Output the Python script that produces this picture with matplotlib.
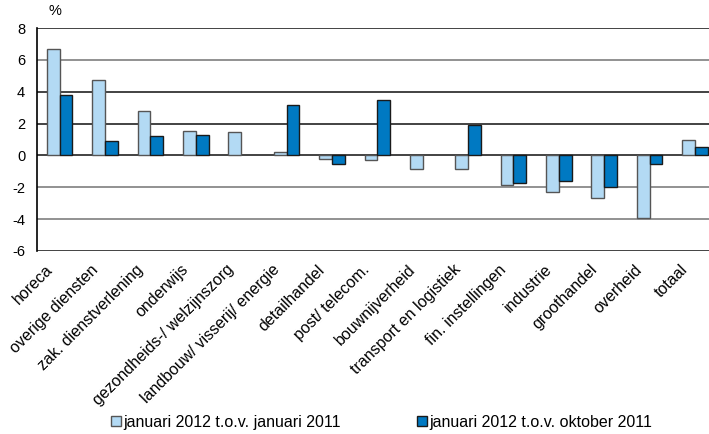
import numpy as np
from matplotlib import pyplot as plt
from matplotlib import transforms

# Sectors and growth figures (%)
sectors = ["horeca", "overige diensten", "zak. dienstverlening", "onderwijs",
           "gezondheids-/ welzijnszorg", "landbouw/ visserij/ energie",
           "detailhandel", "post/ telecom.", "bouwnijverheid",
           "transport en logistiek", "fin. instellingen", "industrie",
           "groothandel", "overheid", "totaal"]
jan_vs_jan = [6.68, 4.72, 2.76, 1.54, 1.50, 0.21, -0.21, -0.29, -0.84,
              -0.86, -1.84, -2.28, -2.65, -3.95, 0.96]
jan_vs_okt = [3.80, 0.90, 1.21, 1.29, 0.0, 3.17, -0.52, 3.47, 0.0,
              1.88, -1.73, -1.63, -1.98, -0.54, 0.56]
yticks = [-6, -4, -2, 0, 2, 4, 6, 8]
legend_labels = ["januari 2012 t.o.v. januari 2011",
                 "januari 2012 t.o.v. oktober 2011"]

plt.rcParams['font.family'] = ['Liberation Sans', 'DejaVu Sans']

fig = plt.figure(figsize=(7.09, 4.34), dpi=100)
ax = fig.add_axes([37 / 709, (434 - 251) / 434, (709 - 37) / 709, 223 / 434])

x = np.arange(len(sectors))
w = 0.28
# no outline for empty bars
lw1 = [0 if v == 0 else 1.0 for v in jan_vs_jan]
lw2 = [0 if v == 0 else 1.0 for v in jan_vs_okt]
b1 = ax.bar(x - w / 2, jan_vs_jan, w, color="#b3daf4", edgecolor="#555555",
            linewidth=lw1, zorder=3)
b2 = ax.bar(x + w / 2, jan_vs_okt, w, color="#0079c2", edgecolor="#1a1a1a",
            linewidth=lw2, zorder=3)

ax.set_ylim(-6, 8)
ax.set_xlim(-0.5, 14.31)
ax.set_yticks(yticks)
ax.set_yticklabels([str(v) for v in yticks], fontsize=10.5)
for v in yticks:
    col = "#222222" if v in (8, 4, 2, 0, -6) else "#7f7f7f"
    ax.axhline(v, color=col, linewidth=1.2, zorder=1)

# category labels, rotated, ending a bit left of each group centre
ax.set_xticks(x)
ax.set_xticklabels([])
lab_tr = transforms.blended_transform_factory(ax.transData, ax.transAxes) + \
    transforms.ScaledTranslation(-15 / 100, -11 / 100, fig.dpi_scale_trans)
for xi, name in zip(x, sectors):
    ax.text(xi, 0, name, transform=lab_tr, rotation=45, ha="right", va="top",
            rotation_mode="anchor", fontsize=11.5, clip_on=False)

ax.tick_params(axis="both", length=0)
ax.tick_params(axis="y", pad=8.5)
for s in ["top", "right", "bottom"]:
    ax.spines[s].set_visible(False)
ax.spines["left"].set_linewidth(1.2)

fig.text(55 / 709, 1 - 11 / 434, "%", fontsize=10.5, ha="center", va="center")

ly = 1 - 422 / 434
for handle, label, hx in [(b1, legend_labels[0], 111), (b2, legend_labels[1], 417)]:
    fig.legend([handle], [label], loc="center left",
               bbox_to_anchor=(hx / 709, ly), frameon=False, fontsize=11.5,
               handlelength=0.6, handleheight=0.6, handletextpad=0.2,
               borderpad=0, borderaxespad=0)

fig.savefig("out.png", dpi=100)
